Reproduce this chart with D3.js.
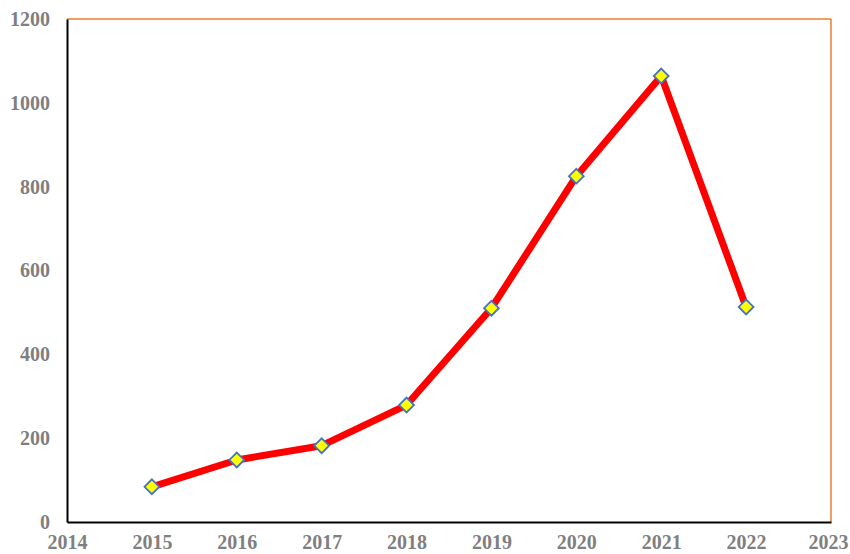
<!DOCTYPE html>
<html>
<head>
<meta charset="utf-8">
<script src="https://cdn.jsdelivr.net/npm/d3@7"></script>
<style>
  html, body { margin: 0; padding: 0; background: #fff; }
  svg { display: block; }
</style>
</head>
<body>
<svg id="chart" width="850" height="554"></svg>
<script>
// Yearly values
const years = [2015, 2016, 2017, 2018, 2019, 2020, 2021, 2022];
const counts = [84, 148, 182, 279, 510, 825, 1064, 513];
const xTicks = [2014, 2015, 2016, 2017, 2018, 2019, 2020, 2021, 2022, 2023];
const yTicks = [0, 200, 400, 600, 800, 1000, 1200];

const W = 850, H = 554;
const m = { left: 67, right: 19, top: 19, bottom: 32 };

const svg = d3.select("#chart");

const x = d3.scaleLinear().domain([2014, 2023]).range([m.left, W - m.right]);
const y = d3.scaleLinear().domain([0, 1200]).range([H - m.bottom, m.top]);

const labelColor = "#7f7f7f";
const font = "'Liberation Serif', 'Times New Roman', serif";

// Top and right frame lines
svg.append("line")
  .attr("x1", x(2014)).attr("x2", x(2023))
  .attr("y1", y(1200)).attr("y2", y(1200))
  .attr("stroke", "#ED7D31").attr("stroke-width", 1.5);
svg.append("line")
  .attr("x1", x(2023)).attr("x2", x(2023))
  .attr("y1", y(1200)).attr("y2", y(0))
  .attr("stroke", "#ED7D31").attr("stroke-width", 1.5);

// Y axis
const yAxis = svg.append("g")
  .attr("transform", `translate(${x(2014)},0)`)
  .call(d3.axisLeft(y).tickValues(yTicks).tickSize(0).tickPadding(17).tickFormat(d3.format("d")));
yAxis.select(".domain").attr("stroke", "#000").attr("stroke-width", 2);
yAxis.selectAll("text")
  .attr("fill", labelColor)
  .style("font-family", font)
  .style("font-size", "20px")
  .style("font-weight", "bold");

// X axis
const xAxis = svg.append("g")
  .attr("transform", `translate(0,${y(0)})`)
  .call(d3.axisBottom(x).tickValues(xTicks).tickSize(0).tickFormat(d3.format("d")));
xAxis.select(".domain").attr("stroke", "#000").attr("stroke-width", 2);
xAxis.selectAll("text")
  .attr("y", H - 5 - y(0))
  .attr("dy", null)
  .attr("fill", labelColor)
  .style("font-family", font)
  .style("font-size", "20px")
  .style("font-weight", "bold");
// keep the last year label inside the canvas
xAxis.selectAll(".tick").filter(d => d === 2023).select("text").attr("x", -3);

// Series line
const pts = years.map((yr, i) => [yr, counts[i]]);
const line = d3.line()
  .x(d => x(d[0]))
  .y(d => y(d[1]));

svg.append("path")
  .datum(pts)
  .attr("fill", "none")
  .attr("stroke", "#FF0000")
  .attr("stroke-width", 7)
  .attr("stroke-linejoin", "round")
  .attr("d", line);

// Diamond markers
const diamond = d3.symbol().type(d3.symbolDiamond2).size(140);
svg.append("g").selectAll("path")
  .data(pts)
  .join("path")
  .attr("transform", d => `translate(${x(d[0])},${y(d[1])})`)
  .attr("d", diamond)
  .attr("fill", "#FFFF00")
  .attr("stroke", "#4472C4")
  .attr("stroke-width", 1.8);
</script>
</body>
</html>
